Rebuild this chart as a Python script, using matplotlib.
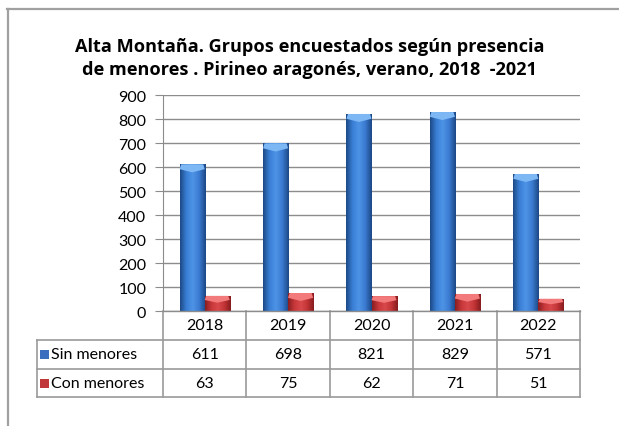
import numpy as np
import matplotlib
matplotlib.use("Agg")
import matplotlib.pyplot as plt
from matplotlib.colors import LinearSegmentedColormap
from matplotlib.patches import Polygon, Rectangle
from matplotlib.lines import Line2D

plt.rcParams["font.family"] = ["Lato", "DejaVu Sans"]

# data
years = ["2018", "2019", "2020", "2021", "2022"]
sin_menores = [611, 698, 821, 829, 571]
con_menores = [63, 75, 62, 71, 51]
series_names = ["Sin menores", "Con menores"]
yticks = [0, 100, 200, 300, 400, 500, 600, 700, 800, 900]
title = "Alta Montaña. Grupos encuestados según presencia\nde menores . Pirineo aragonés, verano, 2018  -2021"

W, H = 619, 427
FS = 11.5
fig = plt.figure(figsize=(W / 100, H / 100), dpi=100)
fig.patch.set_facecolor("white")

# outer frame (left and top only visible)
fig.add_artist(Line2D([7.5 / W, 7.5 / W], [0, 1 - 10 / H], transform=fig.transFigure,
                      color="#a0a0a0", lw=1.6))
fig.add_artist(Line2D([7 / W, 1], [1 - 10 / H, 1 - 10 / H], transform=fig.transFigure,
                      color="#a0a0a0", lw=1.6))

ax = fig.add_axes([163 / W, 1 - 312 / H, (580 - 163) / W, (312 - 96) / H])

x = np.arange(len(years))
bw = 0.3
blue_cmap = LinearSegmentedColormap.from_list(
    "b", ["#1d4a86", "#3a7fd6", "#4d93e6", "#3a7ad0", "#1c4885"])
red_cmap = LinearSegmentedColormap.from_list(
    "r", ["#8a1e20", "#c8383a", "#d9494b", "#c23436", "#861c1e"])

bars_b = ax.bar(x - bw / 2, sin_menores, bw, color="#3a7bd0", zorder=3)
bars_r = ax.bar(x + bw / 2, con_menores, bw, color="#c8383a", zorder=3)

grad = np.linspace(0, 1, 64).reshape(1, -1)
px_per_unit = (312 - 96) / 900.0
cap = 8 / px_per_unit
for bars, cmap, capc in [(bars_b, blue_cmap, "#7db8f5"), (bars_r, red_cmap, "#f27a7a")]:
    for b in bars:
        x0, w, h = b.get_x(), b.get_width(), b.get_height()
        im = ax.imshow(grad, cmap=cmap, extent=[x0, x0 + w, 0, h], aspect="auto",
                       zorder=3.5, interpolation="bilinear")
        im.set_clip_path(b)
        c = min(cap, h * 0.45)
        ax.add_patch(Polygon([(x0 + w * 0.06, h), (x0 + w * 0.94, h), (x0 + w, h - c * 0.6),
                              (x0 + w * 0.5, h - c), (x0, h - c * 0.6)],
                             closed=True, facecolor=capc, edgecolor="none", zorder=4))
ax.set_xlim(-0.5, len(years) - 0.5)
ax.set_ylim(0, 900)

ax.set_yticks(yticks)
ax.tick_params(axis="y", labelsize=FS, length=6, color="#8c8c8c", pad=6)
ax.set_xticks([])
ax.yaxis.grid(True, color="#8c8c8c", lw=1.0, zorder=0)
for s in ["top", "right", "bottom"]:
    ax.spines[s].set_visible(False)
ax.spines["left"].set_color("#8c8c8c")
ax.axhline(0, color="#8c8c8c", lw=1.0, zorder=5, clip_on=False)

# data table under the axis
row_h = 28.8 / (312 - 96)
lab_left = (37 - 163) / (580 - 163)
lc = "#9a9a9a"
tkw = dict(transform=ax.transAxes, color=lc, lw=1.2, clip_on=False)
for i in range(len(years) + 1):
    xf = i / len(years)
    ax.add_line(Line2D([xf, xf], [0, -3 * row_h], **tkw))
ax.add_line(Line2D([lab_left, lab_left], [-row_h, -3 * row_h], **tkw))
for r in [1, 2, 3]:
    ax.add_line(Line2D([lab_left, 1], [-r * row_h, -r * row_h], **tkw))

for i, yr in enumerate(years):
    xc = (i + 0.5) / len(years)
    ax.text(xc, -0.5 * row_h, yr, transform=ax.transAxes, ha="center", va="center", fontsize=FS)
    ax.text(xc, -1.5 * row_h, str(sin_menores[i]), transform=ax.transAxes,
            ha="center", va="center", fontsize=FS)
    ax.text(xc, -2.5 * row_h, str(con_menores[i]), transform=ax.transAxes,
            ha="center", va="center", fontsize=FS)

sq_w = 9 / (580 - 163)
sq_h = 9 / (312 - 96)
for r, (name, col) in enumerate(zip(series_names, ["#3a6fc0", "#c0383a"])):
    yc = -(r + 1.5) * row_h
    ax.add_patch(Rectangle((lab_left + 3 / 417, yc - sq_h / 2), sq_w, sq_h, transform=ax.transAxes,
                           facecolor=col, edgecolor="none", clip_on=False))
    ax.text(lab_left + 14 / 417, yc, name, transform=ax.transAxes, ha="left", va="center",
            fontsize=FS)

fig.text(0.5, 1 - 58.5 / H, title, ha="center", va="center", fontsize=13.1, fontweight="bold",
         family=["Open Sans", "DejaVu Sans"], linespacing=1.38)

fig.savefig("out.png", dpi=100, facecolor="white")
